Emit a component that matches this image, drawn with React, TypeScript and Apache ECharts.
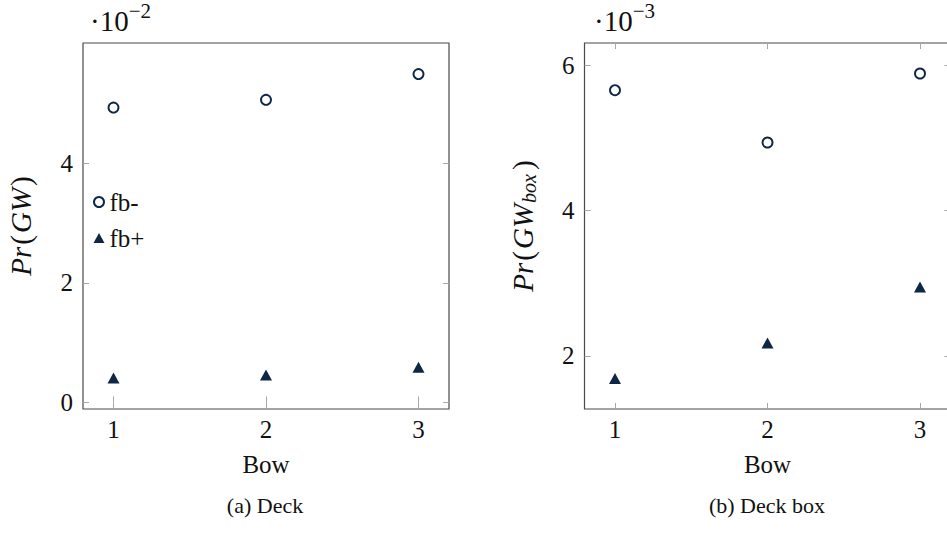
import React, { useEffect, useRef } from "react";
import * as echarts from "echarts";

const BOW = [1, 2, 3];
const DECK_FB_MINUS = [4.93, 5.06, 5.49];
const DECK_FB_PLUS = [0.41, 0.46, 0.59];
const BOX_FB_MINUS = [5.66, 4.94, 5.89];
const BOX_FB_PLUS = [1.69, 2.18, 2.95];
const X_TICKS = [1, 2, 3];
const DECK_Y_TICKS = [0, 2, 4];
const BOX_Y_TICKS = [2, 4, 6];
const SERIES_NAMES = ["fb-", "fb+"];
const CAPTIONS = ["(a) Deck", "(b) Deck box"];
const SCALES = ["−2", "−3"];

const NAVY = "#0e2744";
const FRAME = "#4a4a4a";
const TICK = "#a8a8a8";
const FONT = "Liberation Serif";
const FS = 25;

const GRIDS = [
  { left: 83, top: 43, width: 366, height: 366 },
  { left: 584.5, top: 43, width: 366, height: 366 },
];
const X_RANGE = [0.8, 3.2];
const Y_RANGES = [
  [-0.11, 6.01],
  [1.27, 6.31],
];

export default function App() {
  const ref = useRef<HTMLDivElement>(null);
  useEffect(() => {
    document.body.style.margin = "0";
    if (!ref.current) return;
    const chart = echarts.init(ref.current, null, { renderer: "svg" });

    const yTicks = [DECK_Y_TICKS, BOX_Y_TICKS];
    const xAxes: any[] = [];
    const yAxes: any[] = [];
    [0, 1].forEach((g) => {
      xAxes.push({
        type: "value",
        gridIndex: g,
        position: "bottom",
        min: X_RANGE[0],
        max: X_RANGE[1],
        name: "Bow",
        nameLocation: "middle",
        nameGap: 43,
        nameTextStyle: { fontFamily: FONT, fontSize: FS, color: "#111" },
        axisLine: { show: false },
        axisTick: { show: true, inside: true, length: 6, customValues: X_TICKS, lineStyle: { color: TICK } },
        axisLabel: { show: true, customValues: X_TICKS, margin: 8, fontFamily: FONT, fontSize: FS, color: "#111" },
        splitLine: { show: false },
      });
      xAxes.push({
        type: "value",
        gridIndex: g,
        position: "top",
        min: X_RANGE[0],
        max: X_RANGE[1],
        axisLine: { show: false },
        axisTick: { show: true, inside: true, length: 6, customValues: X_TICKS, lineStyle: { color: TICK } },
        axisLabel: { show: false },
        splitLine: { show: false },
      });
      yAxes.push({
        type: "value",
        gridIndex: g,
        position: "left",
        min: Y_RANGES[g][0],
        max: Y_RANGES[g][1],
        name: g === 0 ? "{i|Pr}{n|(}{i|GW}{n|)}" : "{i|Pr}{n|(}{i|GW}{s|box}{n|)}",
        nameLocation: "middle",
        nameRotate: 90,
        nameGap: g === 0 ? 48 : 46,
        nameTextStyle: {
          fontFamily: FONT,
          color: "#111",
          rich: {
            i: { fontFamily: FONT, fontSize: 29, fontStyle: "italic", color: "#111", padding: [0, 1, 0, 1] },
            n: { fontFamily: FONT, fontSize: 29, color: "#111", padding: [0, 1, 0, 1] },
            s: { fontFamily: FONT, fontSize: 20, fontStyle: "italic", color: "#111", padding: [11, 3, 0, 0] },
          },
        },
        axisLine: { show: false },
        axisTick: { show: true, inside: true, length: 6, customValues: yTicks[g], lineStyle: { color: TICK } },
        axisLabel: { show: true, customValues: yTicks[g], margin: 10, fontFamily: FONT, fontSize: FS, color: "#111" },
        splitLine: { show: false },
      });
      yAxes.push({
        type: "value",
        gridIndex: g,
        position: "right",
        min: Y_RANGES[g][0],
        max: Y_RANGES[g][1],
        axisLine: { show: false },
        axisTick: { show: true, inside: true, length: 6, customValues: yTicks[g], lineStyle: { color: TICK } },
        axisLabel: { show: false },
        splitLine: { show: false },
      });
    });

    const pts = (vals: number[]) => BOW.map((x, i) => [x, vals[i]]);
    const circleStyle = { color: "#fff", borderColor: NAVY, borderWidth: 1.9, opacity: 1 };
    const triStyle = { color: NAVY, opacity: 1 };
    const series: any[] = [
      { name: SERIES_NAMES[0], type: "scatter", xAxisIndex: 0, yAxisIndex: 0, data: pts(DECK_FB_MINUS), symbol: "circle", symbolSize: 10, itemStyle: circleStyle },
      { name: SERIES_NAMES[1], type: "scatter", xAxisIndex: 0, yAxisIndex: 0, data: pts(DECK_FB_PLUS), symbol: "triangle", symbolSize: [12, 11], itemStyle: triStyle },
      { name: SERIES_NAMES[0], type: "scatter", xAxisIndex: 2, yAxisIndex: 2, data: pts(BOX_FB_MINUS), symbol: "circle", symbolSize: 10, itemStyle: circleStyle },
      { name: SERIES_NAMES[1], type: "scatter", xAxisIndex: 2, yAxisIndex: 2, data: pts(BOX_FB_PLUS), symbol: "triangle", symbolSize: [12, 11], itemStyle: triStyle },
    ];

    const graphics: any[] = [];
    [0, 1].forEach((g) => {
      graphics.push({
        type: "text",
        x: g === 0 ? 265 : 767,
        y: 505,
        style: { text: CAPTIONS[g], fontFamily: FONT, fontSize: 22, fill: "#111", align: "center", verticalAlign: "middle" },
      });
      graphics.push({
        type: "text",
        left: g === 0 ? 90 : 594,
        top: 0,
        style: {
          text: "{m|·10}{s|" + SCALES[g] + "}",
          fontFamily: FONT,
          rich: {
            m: { fontFamily: FONT, fontSize: 29, fill: "#111", padding: [11, 0, 0, 0] },
            s: { fontFamily: FONT, fontSize: 21, fill: "#111", padding: [0, 0, 9, 0] },
          },
        },
      });
    });

    chart.setOption({
      animation: false,
      backgroundColor: "#fff",
      grid: GRIDS.map((g) => ({
        ...g,
        show: true,
        borderColor: FRAME,
        borderWidth: 1.2,
        backgroundColor: "transparent",
        outerBoundsMode: "none",
        containLabel: false,
      })),
      xAxis: xAxes,
      yAxis: yAxes,
      legend: {
        show: true,
        orient: "vertical",
        left: 93,
        top: 188,
        padding: 0,
        itemWidth: 11,
        itemHeight: 10,
        itemGap: 8,
        selectedMode: false,
        textStyle: { fontFamily: FONT, fontSize: FS, color: "#111", lineHeight: 28 },
        data: [{ name: SERIES_NAMES[0] }, { name: SERIES_NAMES[1] }],
      },
      series,
      graphic: graphics,
    });
    return () => chart.dispose();
  }, []);
  return <div ref={ref} style={{ width: 947, height: 537 }} />;
}
